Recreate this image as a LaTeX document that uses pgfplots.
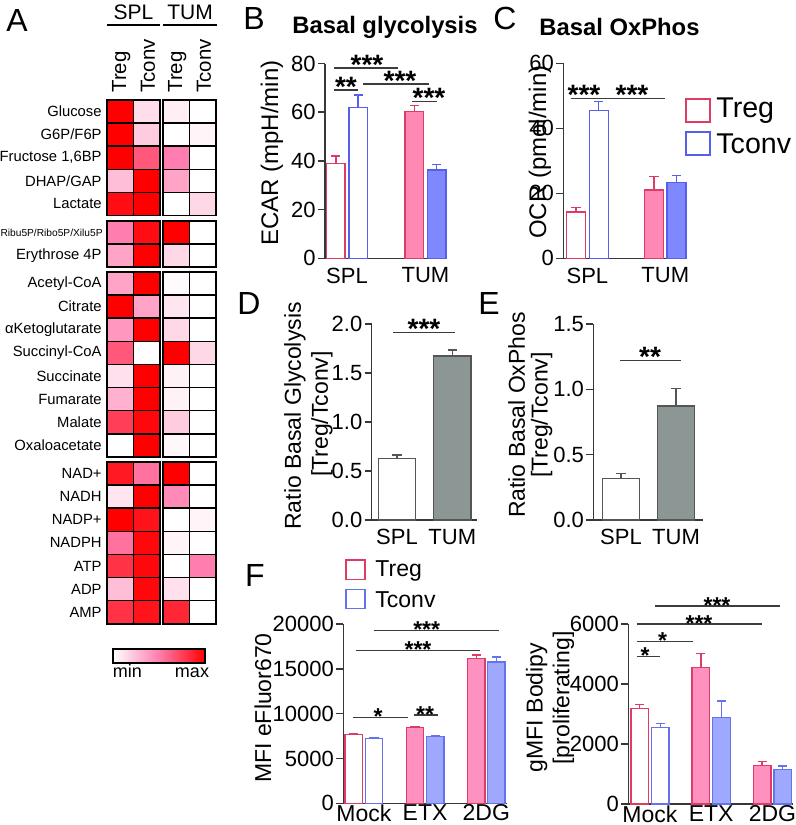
\documentclass[border=0pt]{standalone}
\usepackage{fontspec}
\setmainfont{Liberation Sans}
\usepackage{pgfplots}
\usepackage{pgfplotstable}
\pgfplotsset{compat=1.18}

\definecolor{tregE}{RGB}{222,60,100}
\definecolor{tregF}{RGB}{255,136,180}
\definecolor{tconvE}{RGB}{85,95,235}
\definecolor{tconvF}{RGB}{128,136,255}
\definecolor{tregF2}{RGB}{255,145,192}
\definecolor{tconvF2}{RGB}{158,168,252}
\definecolor{tconvE2}{RGB}{100,115,235}
\definecolor{axc}{RGB}{55,55,55}
\definecolor{grayF}{RGB}{140,150,148}
\definecolor{grayE}{RGB}{85,85,85}
\definecolor{sigc}{RGB}{60,60,60}
\definecolor{hmmid}{RGB}{255,125,175}

\pgfdeclareplotmark{hcell}{%
  \pgfpathrectangle{\pgfqpoint{-6.65pt}{-5.775pt}}{\pgfqpoint{13.3pt}{11.55pt}}%
  \pgfusepathqfillstroke}

\pgfplotsset{
  bp/.style={
    scale only axis, anchor=south west, clip=false,
    axis lines=left, axis line style={-, axc, line width=0.75pt},
    tick align=outside, major tick length=3.5pt,
    tick style={axc, line width=0.75pt},
    xtick style={draw=none},
    ymin=0,
    /pgf/number format/assume math mode=true,
    tick label style={font=\fontsize{11}{13}\selectfont},
    yticklabel style={inner sep=1pt},
    xticklabel style={inner sep=1pt},
  },
  bb/.style={ybar, bar shift=0pt, line width=0.7pt,
    error bars/y dir=plus, error bars/y explicit,
    error bars/error mark options={rotate=90, mark size=2.3pt, line width=0.7pt}},
  tregO/.style={draw=tregE, fill=white, error bars/error bar style={tregE, line width=0.7pt}},
  tregS/.style={draw=tregE, fill=tregF, error bars/error bar style={tregE, line width=0.7pt}},
  tconvO/.style={draw=tconvE, fill=white, error bars/error bar style={tconvE, line width=0.7pt}},
  tconvS/.style={draw=tconvE, fill=tconvF, error bars/error bar style={tconvE, line width=0.7pt}},
  tregS2/.style={draw=tregE, fill=tregF2, error bars/error bar style={tregE, line width=0.7pt}},
  tconvO2/.style={draw=tconvE2, fill=white, error bars/error bar style={tconvE2, line width=0.7pt}},
  tconvS2/.style={draw=tconvE2, fill=tconvF2, error bars/error bar style={tconvE2, line width=0.7pt}},
  grayO/.style={draw=grayE, fill=white, error bars/error bar style={grayE, line width=0.7pt}},
  grayS/.style={draw=grayE, fill=grayF, error bars/error bar style={grayE, line width=0.7pt}},
  hmcell/.style={scatter, only marks, mark=hcell, line width=0.8pt,
    scatter/use mapped color={draw=black, fill=mapped color}, point meta=explicit},
}

\newcommand{\lab}{\fontsize{11.5}{13}\selectfont}
\newcommand{\starB}{\fontsize{14}{14}\selectfont\bfseries}
\newcommand{\starF}{\fontsize{11.5}{12}\selectfont\bfseries}
% x1 x2 y xstar stars font offset
\newcommand{\sigbar}[7]{%
  \draw[sigc, line width=0.75pt] (#1,#3) -- (#2,#3);
  \node[anchor=base, inner sep=0pt, font=#6] at (#4,{#3+#7}) {#5};}

\pgfplotstableread{
y a b c d
111.55 1.00 0.13 0.06 0.00
134.65 1.00 0.20 0.00 0.04
157.75 1.00 0.65 0.50 0.00
180.85 0.25 1.00 0.35 0.00
203.95 0.95 1.00 0.00 0.15
232.55 0.50 0.95 1.00 0.00
255.65 0.35 1.00 0.15 0.00
283.55 0.35 1.00 0.02 0.00
306.65 1.00 0.35 0.10 0.00
329.75 0.40 1.00 0.15 0.00
352.85 0.65 0.00 1.00 0.15
375.95 0.12 1.00 0.05 0.00
399.05 0.30 1.00 0.05 0.00
422.15 0.75 0.97 0.20 0.00
445.25 0.00 1.00 0.03 0.00
473.55 0.90 0.55 1.00 0.00
496.65 0.10 1.00 0.45 0.00
519.75 1.00 0.93 0.00 0.04
542.85 0.55 0.97 0.04 0.00
565.95 0.80 0.97 0.00 0.50
589.05 0.25 0.97 0.12 0.00
612.15 0.80 0.92 0.85 0.00
}\hmdata

\begin{document}
\begin{tikzpicture}
\path[use as bounding box] (0pt,0pt) rectangle (398pt,-412.5pt);

% ---------------- Panel A: heatmap ----------------
\begin{axis}[at={(0pt,0pt)}, anchor=north west, scale only axis,
  width=398pt, height=412.5pt, xmin=0, xmax=796, ymin=0, ymax=825,
  y dir=reverse, hide axis, clip=false,
  colormap={hm}{rgb255(0cm)=(255,255,255) rgb255(1cm)=(255,125,175) rgb255(2cm)=(255,0,0)},
  point meta min=0, point meta max=1]
\addplot[hmcell] table[x expr=120.3, y=y, meta=a] {\hmdata};
\addplot[hmcell] table[x expr=146.9, y=y, meta=b] {\hmdata};
\addplot[hmcell] table[x expr=176.3, y=y, meta=c] {\hmdata};
\addplot[hmcell] table[x expr=202.9, y=y, meta=d] {\hmdata};
\end{axis}

% ---------------- Panel B ----------------
\begin{axis}[bp, at={(162.5pt,-129.15pt)}, width=61pt, height=97.4pt,
  xmin=-0.280, xmax=1.274, ymax=80, ytick={0,20,40,60,80},
  xtick={0,1}, xticklabels={SPL,TUM}, bar width=9.25pt]
\addplot[bb, tregO] coordinates {(-0.142,39) +- (0,3)};
\addplot[bb, tregS] coordinates {(0.858,60.2) +- (0,2.5)};
\addplot[bb, tconvO] coordinates {(0.142,62) +- (0,5)};
\addplot[bb, tconvS] coordinates {(1.142,36.3) +- (0,2.3)};
\end{axis}

% ---------------- Panel C ----------------
\begin{axis}[bp, at={(281.65pt,-129.15pt)}, width=61.7pt, height=97.5pt,
  xmin=-0.309, xmax=1.275, ymax=60, ytick={0,20,40,60},
  xtick={0,1}, xticklabels={SPL,TUM}, bar width=9.5pt]
\addplot[bb, tregO] coordinates {(-0.146,14.3) +- (0,1.4)};
\addplot[bb, tregS] coordinates {(0.854,21) +- (0,4.1)};
\addplot[bb, tconvO] coordinates {(0.146,45.4) +- (0,2.8)};
\addplot[bb, tconvS] coordinates {(1.146,23.3) +- (0,2.2)};
\end{axis}

% ---------------- Panel D ----------------
\begin{axis}[bp, at={(185.85pt,-260pt)}, width=52.5pt, height=98pt,
  xmin=-0.457, xmax=1.441, ymax=2.0, ytick={0,0.5,1,1.5,2},
  yticklabel style={/pgf/number format/.cd, fixed, fixed zerofill, precision=1},
  xtick={0,1}, xticklabels={SPL,TUM}, bar width=18.75pt]
\addplot[bb, grayO] coordinates {(0,0.63) +- (0,0.033)};
\addplot[bb, grayS] coordinates {(1,1.673) +- (0,0.062)};
\end{axis}

% ---------------- Panel E ----------------
\begin{axis}[bp, at={(296.65pt,-260pt)}, width=54.85pt, height=98pt,
  xmin=-0.504, xmax=1.49, ymax=1.5, ytick={0,0.5,1,1.5},
  yticklabel style={/pgf/number format/.cd, fixed, fixed zerofill, precision=1},
  xtick={0,1}, xticklabels={SPL,TUM}, bar width=18.3pt]
\addplot[bb, grayO] coordinates {(0,0.319) +- (0,0.038)};
\addplot[bb, grayS] coordinates {(1,0.872) +- (0,0.136)};
\end{axis}

% ---------------- Panel F left ----------------
\begin{axis}[bp, at={(171.65pt,-401.65pt)}, width=81.7pt, height=89.65pt,
  xmin=-0.335, xmax=2.333, ymax=20000, ytick={0,5000,10000,15000,20000},
  scaled y ticks=false, yticklabel style={/pgf/number format/1000 sep={}},
  xticklabel style={font=\fontsize{11.5}{12}\selectfont, yshift=4pt},
  xtick={0,1,2}, xticklabels={Mock,ETX,2DG}, bar width=8.65pt]
\addplot[bb, tregO] coordinates {(-0.165,7700) +- (0,100)};
\addplot[bb, tregS2] coordinates {(0.835,8440) +- (0,110) (1.835,16140) +- (0,400)};
\addplot[bb, tconvO2] coordinates {(0.165,7250) +- (0,100)};
\addplot[bb, tconvS2] coordinates {(1.165,7430) +- (0,100) (2.165,15740) +- (0,560)};
\end{axis}

% ---------------- Panel F right ----------------
\begin{axis}[bp, at={(314.15pt,-402pt)}, width=82.35pt, height=90pt,
  xmin=-0.353, xmax=2.336, ymax=6000, ytick={0,2000,4000,6000},
  scaled y ticks=false, yticklabel style={/pgf/number format/1000 sep={}},
  xticklabel style={font=\fontsize{11.5}{12}\selectfont, yshift=4pt},
  xtick={0,1,2}, xticklabels={Mock,ETX,2DG}, bar width=8.75pt]
\addplot[bb, tregO] coordinates {(-0.168,3190) +- (0,132)};
\addplot[bb, tregS2] coordinates {(0.832,4555) +- (0,467) (1.832,1289) +- (0,122)};
\addplot[bb, tconvO2] coordinates {(0.168,2545) +- (0,145)};
\addplot[bb, tconvS2] coordinates {(1.168,2878) +- (0,555) (2.168,1156) +- (0,111)};
\end{axis}

\begin{scope}[x=0.5pt,y=-0.5pt]
% A annotations
\node[font=\fontsize{16}{16}\selectfont] at (17,20) {A};
\node[font=\fontsize{10.5}{12}\selectfont] at (133.5,12) {SPL};
\node[font=\fontsize{10.5}{12}\selectfont] at (190,12) {TUM};
\draw[black, line width=1pt] (107,25) -- (160,25);
\draw[black, line width=1pt] (163,25) -- (217,25);
\foreach \xx/\tt in {120.3/Treg,146.9/Tconv,176.3/Treg,202.9/Tconv}
  \node[rotate=90, anchor=west, inner sep=0pt, font=\fontsize{10.2}{12}\selectfont] at (\xx+1,93) {\tt};
\foreach \yy/\tt in {111.55/Glucose,134.65/G6P\slash F6P,157.75/{Fructose 1,6BP},180.85/DHAP\slash GAP,203.95/Lactate,
  255.65/Erythrose 4P,283.55/Acetyl-CoA,306.65/Citrate,329.75/αKetoglutarate,352.85/Succinyl-CoA,
  375.95/Succinate,399.05/Fumarate,422.15/Malate,445.25/Oxaloacetate,473.55/NAD+,496.65/NADH,
  519.75/NADP+,542.85/NADPH,565.95/ATP,589.05/ADP,612.15/AMP}
  \node[anchor=east, inner sep=0pt, font=\fontsize{7.4}{9}\selectfont] at (102,\yy) {\tt};
\node[anchor=east, inner sep=0pt, font=\fontsize{5.1}{6}\selectfont] at (103,232.55) {Ribu5P/Ribo5P/Xilu5P};
\shade[left color=white, right color=red, middle color=hmmid] (113,649) rectangle (205,663);
\draw[black, line width=0.8pt] (113,649) rectangle (205,663);
\node[font=\fontsize{9}{10}\selectfont, anchor=base] at (127.5,677) {min};
\node[font=\fontsize{9}{10}\selectfont, anchor=base] at (192,677) {max};

% B annotations
\node[font=\fontsize{16}{16}\selectfont] at (254,18) {B};
\node[font=\fontsize{11.9}{13}\selectfont\bfseries] at (385,27) {Basal glycolysis};
\node[rotate=90, font=\fontsize{12}{13}\selectfont] at (272,153) {ECAR (mpH/min)};
\sigbar{334}{398}{68}{367}{*{*}*}{\starB}{6}
\sigbar{334}{358}{90}{346}{*{*}}{\starB}{6}
\sigbar{363}{429}{84}{400}{*{*}*}{\starB}{6}
\sigbar{412}{437}{101.7}{429}{*{*}*}{\starB}{6}

% C annotations
\node[font=\fontsize{16}{16}\selectfont] at (505,18) {C};
\node[font=\fontsize{11.9}{13}\selectfont\bfseries] at (619.5,27) {Basal OxPhos};
\node[rotate=90, font=\fontsize{12}{13}\selectfont] at (540,152) {OCR (pmol/min)};
\draw[sigc, line width=0.75pt] (570.7,98.3) -- (665,98.3);
\node[anchor=base, inner sep=0pt, font=\starB] at (584,104.3) {*{*}*};
\node[anchor=base, inner sep=0pt, font=\starB] at (632,104.3) {*{*}*};
\draw[tregE, line width=0.8pt, fill=white] (686,99) rectangle (710,122);
\draw[tconvE, line width=0.8pt, fill=white] (686,132) rectangle (710,155);
\node[anchor=west, inner sep=0pt, font=\fontsize{14.3}{15}\selectfont] at (716,111) {Treg};
\node[anchor=west, inner sep=0pt, font=\fontsize{14.3}{15}\selectfont] at (716,144) {Tconv};

% D annotations
\node[font=\fontsize{16}{16}\selectfont] at (249,303) {D};
\node[rotate=90, font=\lab] at (295,416) {Ratio Basal Glycolysis};
\node[rotate=90, font=\lab] at (322,414) {[Treg/Tconv]};
\sigbar{393}{455}{332.3}{424}{*{*}*}{\starB}{6}

% E annotations
\node[font=\fontsize{16}{16}\selectfont] at (489,303) {E};
\node[rotate=90, font=\lab] at (516.7,415) {Ratio Basal OxPhos};
\node[rotate=90, font=\lab] at (541.7,415) {[Treg/Tconv]};
\sigbar{620}{680.7}{360.7}{650}{*{*}}{\starB}{6}

% F annotations
\node[font=\fontsize{16}{16}\selectfont] at (255,575) {F};
\draw[tregE, line width=0.8pt, fill=white] (346,560) rectangle (365,579.3);
\draw[tconvE2, line width=0.8pt, fill=white] (346,589.3) rectangle (365,608.3);
\node[anchor=west, inner sep=0pt, font=\fontsize{11.5}{12}\selectfont] at (375,570.5) {Treg};
\node[anchor=west, inner sep=0pt, font=\fontsize{11.5}{12}\selectfont] at (375,599.5) {Tconv};
\node[rotate=90, font=\lab] at (263,708) {MFI eFluor670};
\sigbar{352.7}{408.3}{717.3}{378}{*}{\starF}{7}
\sigbar{414.3}{438.3}{715}{425}{*{*}}{\starF}{7}
\sigbar{356}{480}{650.7}{418}{*{*}*}{\starF}{7}
\sigbar{374}{499.3}{630.7}{426.7}{*{*}*}{\starF}{7}
\node[rotate=90, font=\lab] at (536.7,707.5) {gMFI Bodipy};
\node[rotate=90, font=\lab] at (563.3,698) {[proliferating]};
\sigbar{636.7}{660}{656.7}{645}{*}{\starF}{7}
\sigbar{636.7}{692.7}{641.7}{662.7}{*}{\starF}{7}
\sigbar{636.7}{761.7}{624}{699}{*{*}*}{\starF}{7}
\sigbar{655}{780}{606}{717}{*{*}*}{\starF}{7}
\end{scope}

\end{tikzpicture}
\end{document}
